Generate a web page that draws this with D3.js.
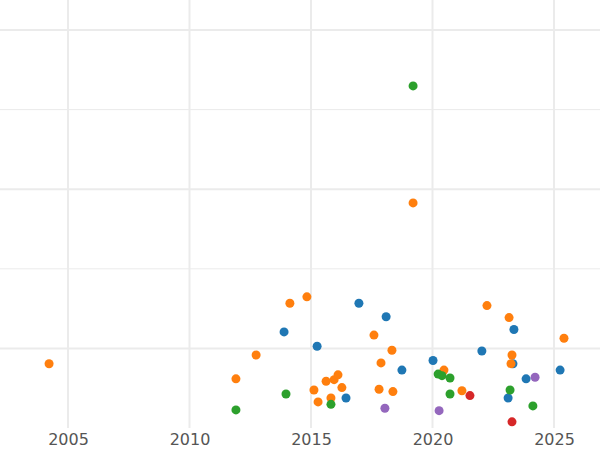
<!DOCTYPE html>
<html><head><meta charset="utf-8">
<script src="https://cdn.jsdelivr.net/npm/d3@7"></script>
<style>body{margin:0;background:#fff}</style></head>
<body><svg id="c" width="600" height="450"></svg>
<script>
const xTicks=[2005,2010,2015,2020,2025];
const yGrid=[1,2,3,4,5];
const orangeX=[2004.18,2011.87,2012.70,2014.09,2014.79,2015.08,2015.25,2015.58,2015.78,2015.91,2016.07,2016.23,2017.55,2017.76,2017.84,2018.29,2018.33,2019.16,2020.43,2021.17,2022.20,2023.11,2023.19,2023.23,2025.37];
const orangeY=[0.82,0.63,0.93,1.58,1.66,0.49,0.34,0.60,0.39,0.62,0.68,0.52,1.18,0.50,0.83,0.99,0.47,2.84,0.74,0.48,1.55,1.40,0.82,0.93,1.14];
const blueX=[2013.85,2015.21,2016.40,2016.93,2018.05,2018.70,2019.98,2021.99,2023.07,2023.27,2023.31,2023.81,2025.21];
const blueY=[1.22,1.04,0.39,1.58,1.41,0.74,0.86,0.98,0.39,0.82,1.25,0.63,0.74];
const greenX=[2011.87,2013.93,2015.78,2019.16,2020.19,2020.35,2020.68,2020.68,2023.15,2024.09];
const greenY=[0.24,0.44,0.31,4.31,0.69,0.67,0.64,0.44,0.49,0.29];
const redX=[2021.50,2023.23];
const redY=[0.42,0.09];
const purpleX=[2018.00,2020.23,2024.18];
const purpleY=[0.26,0.23,0.65];
const series=[
 {x:blueX,y:blueY,c:"#1f77b4"},
 {x:orangeX,y:orangeY,c:"#ff7f0e"},
 {x:greenX,y:greenY,c:"#2ca02c"},
 {x:redX,y:redY,c:"#d62728"},
 {x:purpleX,y:purpleY,c:"#9467bd"}];
const svg=d3.select("#c");
const x=d3.scaleLinear().domain([2005,2025]).range([68,554]);
const y=d3.scaleLinear().domain([0,5]).range([428,30]);
svg.append("g").selectAll("line").data(yGrid).join("line")
 .attr("x1",0).attr("x2",600).attr("y1",d=>y(d)).attr("y2",d=>y(d))
 .attr("stroke","#ebebeb").attr("stroke-width",d=>d%2?2:1);
svg.append("g").selectAll("line").data(xTicks).join("line")
 .attr("x1",d=>x(d)).attr("x2",d=>x(d)).attr("y1",0).attr("y2",428)
 .attr("stroke","#ebebeb").attr("stroke-width",2);
const ax=svg.append("g").attr("transform","translate(0,428)")
 .call(d3.axisBottom(x).tickValues(xTicks).tickFormat(d3.format("d")).tickSize(0).tickPadding(6));
ax.select(".domain").remove();
ax.selectAll("text").attr("fill","#555").style("font-family","DejaVu Sans").style("font-size","16px");
series.forEach(s=>{
 svg.append("g").attr("transform","translate(1,1)").selectAll("circle").data(s.x.map((v,i)=>[v,s.y[i]])).join("circle")
  .attr("cx",d=>x(d[0])).attr("cy",d=>y(d[1])).attr("r",4.5).attr("fill",s.c);
});
</script></body></html>
